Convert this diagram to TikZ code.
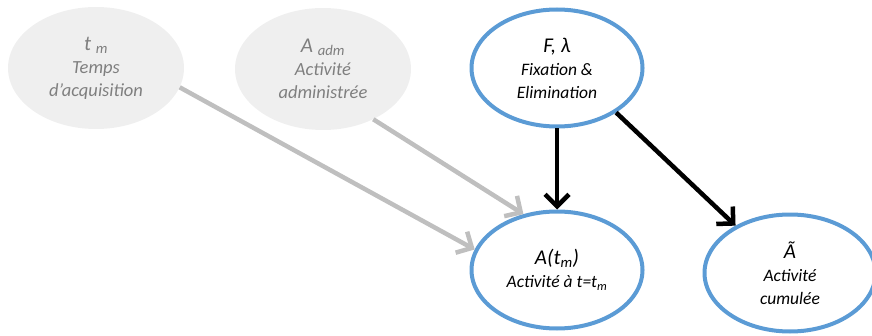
\documentclass[tikz,border=0pt]{standalone}
\usepackage{fontspec}
\setmainfont{Carlito}
\usetikzlibrary{shapes.geometric,arrows.meta}
\definecolor{nodeblue}{HTML}{5B9BD5}
\definecolor{paramfill}{HTML}{EFEFEF}
\definecolor{arrowgray}{HTML}{BFBFBF}
\definecolor{textgray}{HTML}{7F7F7F}
\newcommand{\varlbl}[1]{{\fontsize{21}{24}\selectfont #1}}

\begin{document}
\begin{tikzpicture}[x=1pt, y=1pt, >={Straight Barb[length=12pt, width=24pt]},
  param/.style={ellipse, fill=paramfill, minimum width=176pt, minimum height=122pt, inner sep=0pt, align=center, text=textgray, font=\fontsize{18.5}{23}\selectfont\itshape},
  var/.style={ellipse, draw=nodeblue, line width=4pt, minimum width=171pt, minimum height=117pt, inner sep=0pt, align=center, font=\fontsize{17.5}{23}\selectfont\itshape},
  grayarrow/.style={->, draw=arrowgray, line width=4.5pt},
  blackarrow/.style={->, line width=4.5pt}]
  \useasboundingbox (0,0) rectangle (872,335);
  % parametres fixes
  \node[param] (tm) at (96,267) {\varlbl{t \textsubscript{m}}\\ Temps\\ d’acquisition};
  \node[param] (aadm) at (323,266) {\varlbl{A \textsubscript{adm}}\\ Activité\\ administrée};
  % variables
  \node[var] (fix) at (557,267) {\varlbl{F, λ}\\ Fixation \&\\ Elimination};
  \node[var] (atm) at (557,65) {\varlbl{A(t\textsubscript{m})}\\ Activité à t=t\textsubscript{m}};
  \node[var] (acum) at (790,62) {\varlbl{Ã}\\ Activité\\ cumulée};
  % liens
  \draw[grayarrow] (tm.-13) -- (atm.166);
  \draw[grayarrow] (aadm.-45) -- (atm.121);
  \draw[blackarrow] (fix.south) -- (atm.north);
  \draw[blackarrow] (fix.-37) -- (acum.139);
\end{tikzpicture}
\end{document}
